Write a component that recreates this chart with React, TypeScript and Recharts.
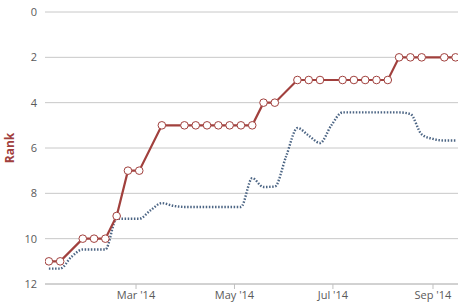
import { LineChart, Line, XAxis, YAxis, CartesianGrid, Label } from 'recharts';

const weeks = [
  '2014-01-06', '2014-01-13', '2014-01-20', '2014-01-27',
  '2014-02-03', '2014-02-10', '2014-02-17', '2014-02-24',
  '2014-03-03', '2014-03-10', '2014-03-17', '2014-03-24', '2014-03-31',
  '2014-04-07', '2014-04-14', '2014-04-21', '2014-04-28',
  '2014-05-05', '2014-05-12', '2014-05-19', '2014-05-26',
  '2014-06-02', '2014-06-09', '2014-06-16', '2014-06-23', '2014-06-30',
  '2014-07-07', '2014-07-14', '2014-07-21', '2014-07-28',
  '2014-08-04', '2014-08-11', '2014-08-18', '2014-08-25',
  '2014-09-01', '2014-09-08', '2014-09-15',
];

// weekly rank (null = no entry that week)
const rank = [
  11, 11, null, 10, 10, 10, 9, 7, 7, null, 5, null, 5, 5, 5, 5, 5, 5, 5,
  4, 4, null, 3, 3, 3, null, 3, 3, 3, 3, 3, 2, 2, 2, null, 2, 2,
];

// smoothed average rank
const avgRank = [
  11.32, 11.32, 10.8, 10.48, 10.48, 10.48, 9.12, 9.12, 9.12, 8.75, 8.43, 8.55,
  8.6, 8.6, 8.6, 8.6, 8.6, 8.6, 7.33, 7.72, 7.7, 6.37, 5.12, 5.45, 5.78, 5.0,
  4.43, 4.43, 4.43, 4.43, 4.43, 4.43, 4.5, 5.4, 5.6, 5.67, 5.67,
];

const monthTicks = ['2014-03-01', '2014-05-01', '2014-07-01', '2014-09-01'];
const monthNames = ['Jan', 'Feb', 'Mar', 'Apr', 'May', 'Jun', 'Jul', 'Aug', 'Sep', 'Oct', 'Nov', 'Dec'];
const rankTicks = [0, 2, 4, 6, 8, 10, 12];

const xDomain = [Date.parse('2014-01-03T14:24:00Z'), Date.parse('2014-09-16T12:00:00Z')];

const data = weeks.map((w, i) => ({
  t: Date.parse(w),
  rank: rank[i],
  avg: avgRank[i],
}));

const fmtMonth = (v: number) => {
  const d = new Date(v);
  return `${monthNames[d.getUTCMonth()]} '${String(d.getUTCFullYear()).slice(2)}`;
};

const RankLabel = ({ viewBox }: any) => {
  const cx = 9;
  const cy = viewBox.y + viewBox.height / 2;
  return (
    <text
      x={cx}
      y={cy}
      transform={`rotate(-90, ${cx}, ${cy})`}
      textAnchor="middle"
      dominantBaseline="central"
      fill="#a1403d"
      fontWeight="bold"
      fontSize={12}
    >
      Rank
    </text>
  );
};

export default function App() {
  return (
    <div style={{ width: 458, height: 305, background: '#fff', fontFamily: '"Open Sans", sans-serif' }}>
      <style>{'body{margin:0}'}</style>
      <LineChart width={458} height={305} data={data} margin={{ top: 12, right: 0, bottom: 0, left: 0 }}>
        <CartesianGrid vertical={false} stroke="#c8c8c8" />
        <XAxis
          dataKey="t"
          type="number"
          domain={xDomain}
          allowDataOverflow
          ticks={monthTicks.map((m) => Date.parse(m))}
          tickFormatter={fmtMonth}
          height={21}
          tickSize={5}
          tickMargin={2}
          stroke="#c0c0c0"
          tick={{ fill: '#5a5a5a', fontSize: 11 }}
        />
        <YAxis
          type="number"
          reversed
          domain={[0, 12]}
          ticks={rankTicks}
          width={45}
          axisLine={false}
          tickLine={false}
          tick={{ fill: '#5a5a5a', fontSize: 11 }}
        >
          <Label content={<RankLabel />} />
        </YAxis>
        <Line
          dataKey="avg"
          type="monotone"
          stroke="#4c6584"
          strokeWidth={2.4}
          strokeDasharray="1.5 1.6"
          dot={false}
          isAnimationActive={false}
        />
        <Line
          dataKey="rank"
          type="linear"
          connectNulls
          stroke="#a1403d"
          strokeWidth={2.2}
          dot={{ r: 3.8, fill: '#ffffff', stroke: '#a1403d', strokeWidth: 1 }}
          isAnimationActive={false}
        />
      </LineChart>
    </div>
  );
}
